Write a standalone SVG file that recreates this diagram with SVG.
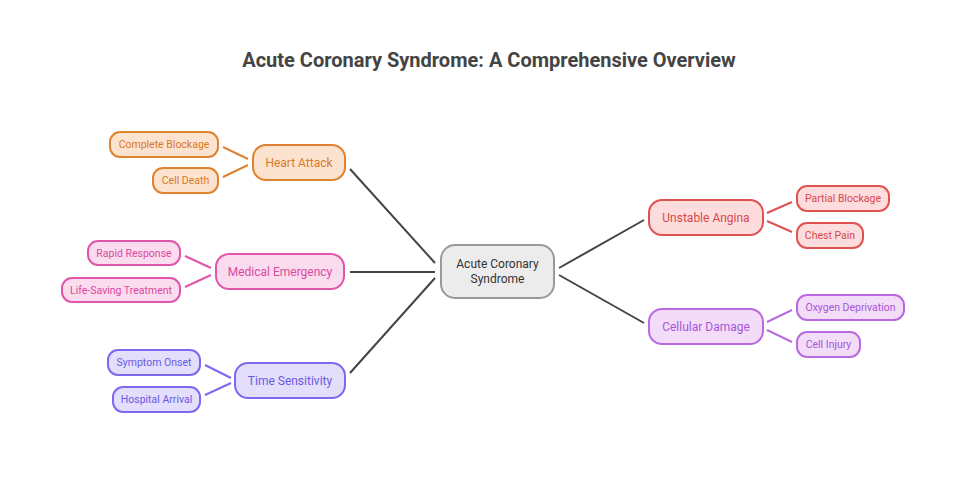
<svg xmlns="http://www.w3.org/2000/svg" width="978" height="496" viewBox="0 0 978 496">
<style>
text{font-family:Roboto,"Liberation Sans",sans-serif;text-anchor:middle;dominant-baseline:central}
.title{font-size:20px;font-weight:bold;fill:#444}
.n{stroke-width:2}
.m{font-size:12px}
.c{font-size:10.5px}
.main{stroke:#444;stroke-width:2;fill:none}
.or rect{fill:#fbe3cf;stroke:#e0822f}.or text{fill:#d97a2b}
.pk rect{fill:#fbdcef;stroke:#e056aa}.pk text{fill:#d9489e}
.bl rect{fill:#e2defc;stroke:#7d68ee}.bl text{fill:#6b5ae0}
.rd rect{fill:#fcdcdc;stroke:#e05252}.rd text{fill:#d94848}
.vi rect{fill:#f2dcf8;stroke:#b96ae0}.vi text{fill:#a855d8}
.ce rect{fill:#ececec;stroke:#999}.ce text{fill:#333}
</style>
<rect width="978" height="496" fill="#fff"/>
<text class="title" x="489" y="60">Acute Coronary Syndrome: A Comprehensive Overview</text>
<g id="connectors" fill="none" stroke-width="2">
<path class="main" d="M350 169L435 263M350 272L435 272M350 373L435 278M559 268L644 220M559 275L644 323"/>
<path stroke="#e0822f" d="M223 147L248 159M223 177L248 165"/>
<path stroke="#e056aa" d="M185 256L211 268M185 287L211 275"/>
<path stroke="#7d68ee" d="M205 365L231 378M205 395L231 383"/>
<path stroke="#e05252" d="M767 213L792 202M767 221L792 232"/>
<path stroke="#b96ae0" d="M767 322L792 310M767 330L792 342"/>
</g>
<g id="center" class="ce"><rect class="n" x="441" y="245" width="113" height="53" rx="14"/><text class="m" x="497.5" y="264">Acute Coronary</text><text class="m" x="497.5" y="279">Syndrome</text></g>
<g id="heart-attack" class="or"><rect class="n" x="253" y="145" width="92" height="35" rx="13"/><text class="m" x="299" y="162.5">Heart Attack</text></g>
<g id="complete-blockage" class="or"><rect class="n" x="110" y="132" width="108" height="25" rx="10"/><text class="c" x="164" y="144.5">Complete Blockage</text></g>
<g id="cell-death" class="or"><rect class="n" x="153" y="168" width="65" height="25" rx="10"/><text class="c" x="185.5" y="180.5">Cell Death</text></g>
<g id="medical-emergency" class="pk"><rect class="n" x="216" y="254" width="128" height="35" rx="13"/><text class="m" x="280" y="271.5">Medical Emergency</text></g>
<g id="rapid-response" class="pk"><rect class="n" x="88" y="241" width="92" height="24" rx="10"/><text class="c" x="134" y="253">Rapid Response</text></g>
<g id="life-saving" class="pk"><rect class="n" x="62" y="278" width="118" height="24" rx="10"/><text class="c" x="121" y="290">Life-Saving Treatment</text></g>
<g id="time-sensitivity" class="bl"><rect class="n" x="235" y="363" width="110" height="35" rx="13"/><text class="m" x="290" y="380.5">Time Sensitivity</text></g>
<g id="symptom-onset" class="bl"><rect class="n" x="108" y="350" width="92" height="25" rx="10"/><text class="c" x="154" y="362.5">Symptom Onset</text></g>
<g id="hospital-arrival" class="bl"><rect class="n" x="113" y="387" width="87" height="25" rx="10"/><text class="c" x="156.5" y="399.5">Hospital Arrival</text></g>
<g id="unstable-angina" class="rd"><rect class="n" x="649" y="200" width="114" height="35" rx="13"/><text class="m" x="706" y="217.5">Unstable Angina</text></g>
<g id="partial-blockage" class="rd"><rect class="n" x="797" y="186" width="92" height="25" rx="10"/><text class="c" x="843" y="198.5">Partial Blockage</text></g>
<g id="chest-pain" class="rd"><rect class="n" x="797" y="223" width="66" height="25" rx="10"/><text class="c" x="830" y="235.5">Chest Pain</text></g>
<g id="cellular-damage" class="vi"><rect class="n" x="649" y="309" width="114" height="35" rx="13"/><text class="m" x="706" y="326.5">Cellular Damage</text></g>
<g id="oxygen-deprivation" class="vi"><rect class="n" x="797" y="295" width="107" height="25" rx="10"/><text class="c" x="850.5" y="307.5">Oxygen Deprivation</text></g>
<g id="cell-injury" class="vi"><rect class="n" x="797" y="332" width="63" height="25" rx="10"/><text class="c" x="828.5" y="344.5">Cell Injury</text></g>
</svg>
